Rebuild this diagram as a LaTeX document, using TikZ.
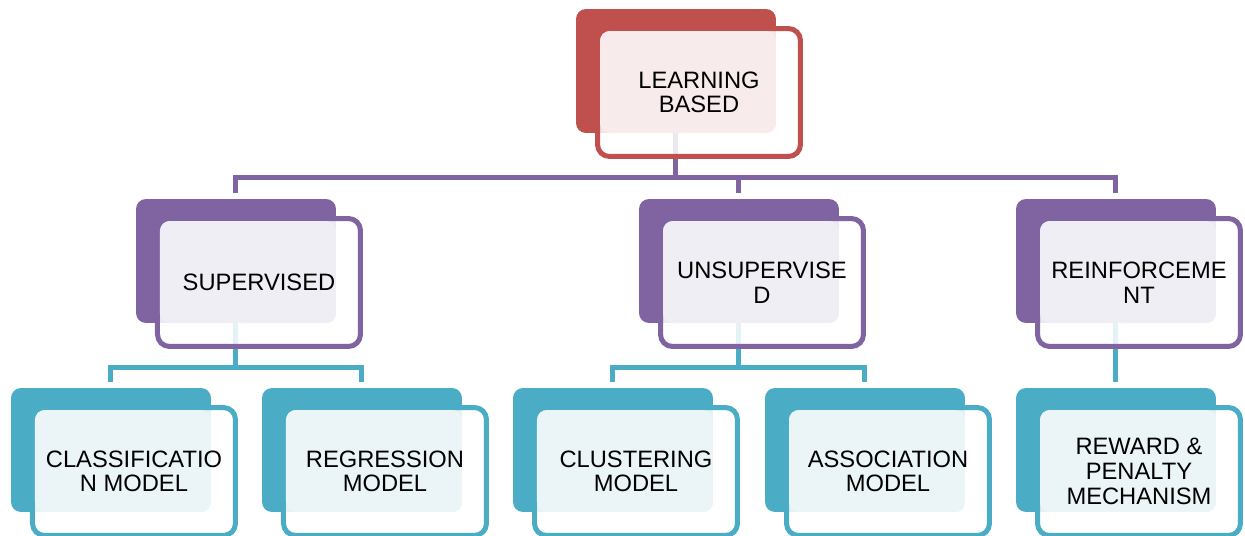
\documentclass[tikz,border=0pt]{standalone}
\usepackage{fontspec}
\setmainfont{Liberation Sans}
\usetikzlibrary{positioning,backgrounds}
\definecolor{rootred}{HTML}{C0504D}
\definecolor{rootpink}{HTML}{F7EBEB}
\definecolor{kindpurple}{HTML}{8064A2}
\definecolor{kindlilac}{HTML}{F0EEF5}
\definecolor{modelteal}{HTML}{4BACC6}
\definecolor{modelice}{HTML}{EBF4F7}
\tikzset{
  backbox/.style={fill=#1, rounded corners=0.2cm, minimum width=4cm, minimum height=2.48cm, anchor=north west, inner sep=0pt, outer sep=0pt},
  frontbox/.style={draw=#1, line width=0.1cm, fill=white, fill opacity=0.85, rounded corners=0.24cm, minimum width=4.06cm, minimum height=2.56cm, anchor=north west, inner sep=0pt, outer sep=0pt},
  tintbox/.style={fill=#1, rounded corners=0.2cm},
  boxtext/.style={align=center, inner sep=0pt, font=\fontsize{13.5}{14}\selectfont},
  link/.style={draw=#1, line width=0.1cm}
}
\begin{document}
\begin{tikzpicture}[x=0.02cm, y=-0.02cm]
\useasboundingbox (0,0) rectangle (1245,535);
\coordinate (top bus) at (0,177);
\coordinate (mid bus) at (0,367);
% root
\node [backbox=rootred] (learn) at (576,9) {};
\node [frontbox=rootred] (learnF) at ([shift={(0.43cm,-0.39cm)}]learn.north west) {};
\fill [tintbox=rootpink] ([shift={(0.48cm,-0.44cm)}]learn.north west) rectangle (learn.south east);
\node [boxtext] (learnT) at (learnF.center) {LEARNING\\BASED};
% second row
\node [backbox=kindpurple] (sup) at (136,199) {};
\node [frontbox=kindpurple] (supF) at ([shift={(0.43cm,-0.39cm)}]sup.north west) {};
\fill [tintbox=kindlilac] ([shift={(0.48cm,-0.44cm)}]sup.north west) rectangle (sup.south east);
\node [boxtext] (supT) at (supF.center) {SUPERVISED};
\node [backbox=kindpurple] (unsup) at (639,199) {};
\node [frontbox=kindpurple] (unsupF) at ([shift={(0.43cm,-0.39cm)}]unsup.north west) {};
\fill [tintbox=kindlilac] ([shift={(0.48cm,-0.44cm)}]unsup.north west) rectangle (unsup.south east);
\node [boxtext] (unsupT) at (unsupF.center) {UNSUPERVISE\\D};
\node [backbox=kindpurple] (reinf) at (1016,199) {};
\node [frontbox=kindpurple] (reinfF) at ([shift={(0.43cm,-0.39cm)}]reinf.north west) {};
\fill [tintbox=kindlilac] ([shift={(0.48cm,-0.44cm)}]reinf.north west) rectangle (reinf.south east);
\node [boxtext] (reinfT) at (reinfF.center) {REINFORCEME\\NT};
% third row
\node [backbox=modelteal] (class) at (11,388) {};
\node [frontbox=modelteal] (classF) at ([shift={(0.43cm,-0.39cm)}]class.north west) {};
\fill [tintbox=modelice] ([shift={(0.48cm,-0.44cm)}]class.north west) rectangle (class.south east);
\node [boxtext] (classT) at (classF.center) {CLASSIFICATIO\\N MODEL};
\node [backbox=modelteal] (regr) at (262,388) {};
\node [frontbox=modelteal] (regrF) at ([shift={(0.43cm,-0.39cm)}]regr.north west) {};
\fill [tintbox=modelice] ([shift={(0.48cm,-0.44cm)}]regr.north west) rectangle (regr.south east);
\node [boxtext] (regrT) at (regrF.center) {REGRESSION\\MODEL};
\node [backbox=modelteal] (clust) at (513,388) {};
\node [frontbox=modelteal] (clustF) at ([shift={(0.43cm,-0.39cm)}]clust.north west) {};
\fill [tintbox=modelice] ([shift={(0.48cm,-0.44cm)}]clust.north west) rectangle (clust.south east);
\node [boxtext] (clustT) at (clustF.center) {CLUSTERING\\MODEL};
\node [backbox=modelteal] (assoc) at (765,388) {};
\node [frontbox=modelteal] (assocF) at ([shift={(0.43cm,-0.39cm)}]assoc.north west) {};
\fill [tintbox=modelice] ([shift={(0.48cm,-0.44cm)}]assoc.north west) rectangle (assoc.south east);
\node [boxtext] (assocT) at (assocF.center) {ASSOCIATION\\MODEL};
\node [backbox=modelteal] (reward) at (1016,388) {};
\node [frontbox=modelteal] (rewardF) at ([shift={(0.43cm,-0.39cm)}]reward.north west) {};
\fill [tintbox=modelice] ([shift={(0.48cm,-0.44cm)}]reward.north west) rectangle (reward.south east);
\node [boxtext] (rewardT) at (rewardF.center) {REWARD \&\\PENALTY\\MECHANISM};
% links
\begin{scope}[on background layer]
\draw [link=kindpurple] (learn.center) |- (sup.north |- top bus) -- ([yshift=0.12cm]sup.north);
\draw [link=kindpurple] (learn.center |- top bus) -| ([yshift=0.12cm]reinf.north);
\draw [link=kindpurple] (unsup.north |- top bus) -- ([yshift=0.12cm]unsup.north);
\draw [link=modelteal] (sup.center) |- (class.north |- mid bus) -- ([yshift=0.12cm]class.north);
\draw [link=modelteal] (sup.center |- mid bus) -| ([yshift=0.12cm]regr.north);
\draw [link=modelteal] (unsup.center) |- (clust.north |- mid bus) -- ([yshift=0.12cm]clust.north);
\draw [link=modelteal] (unsup.center |- mid bus) -| ([yshift=0.12cm]assoc.north);
\draw [link=modelteal] (reinf.center) -- ([yshift=0.12cm]reward.north);
\end{scope}
\end{tikzpicture}
\end{document}
